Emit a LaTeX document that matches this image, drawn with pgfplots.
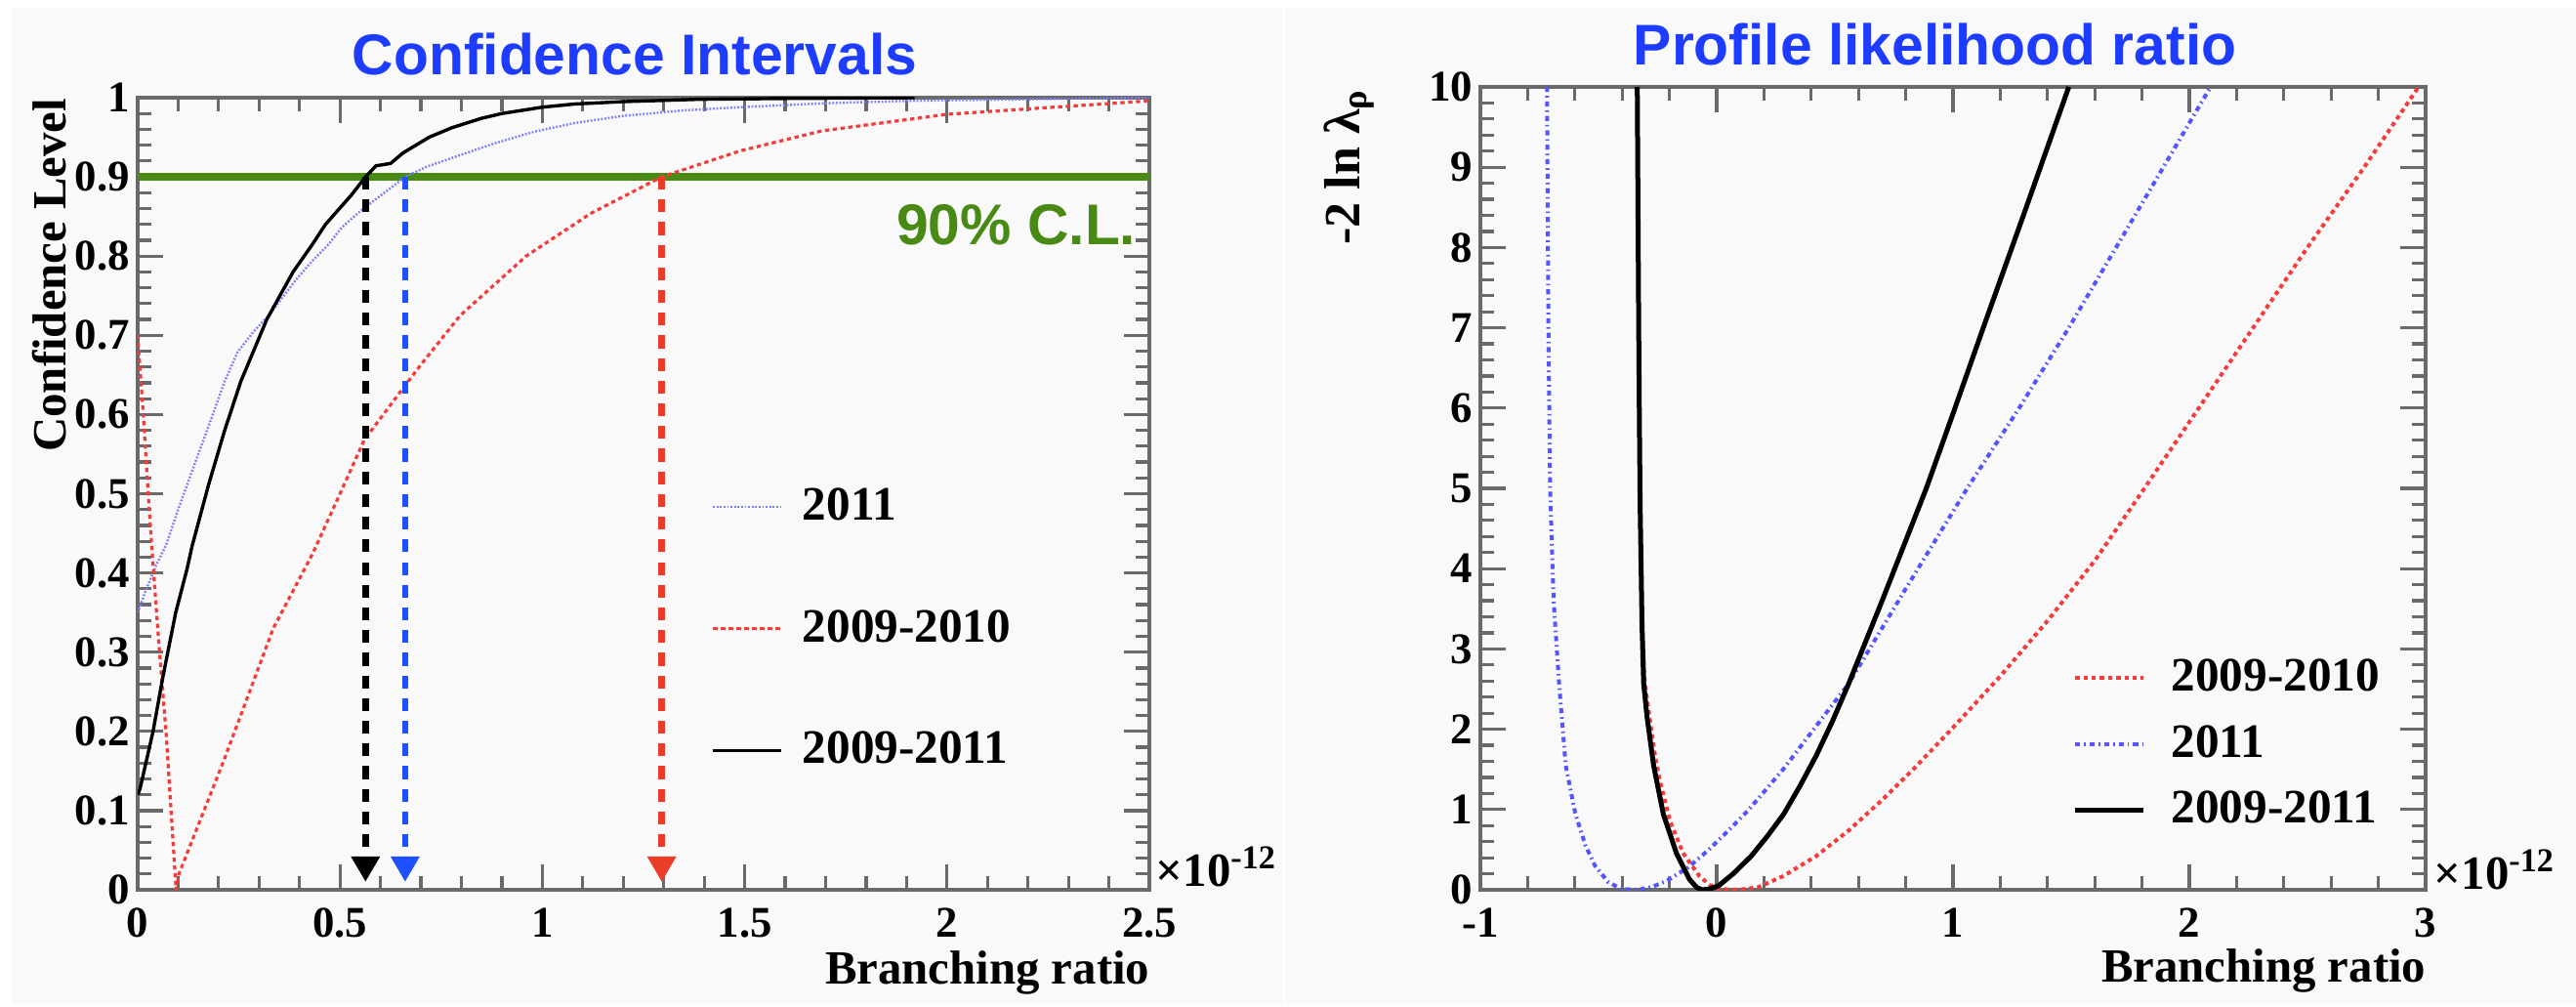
\documentclass[border=0pt]{standalone}
\usepackage{fontspec}
\setmainfont{Liberation Serif}
\newfontfamily\helv{Liberation Sans}
\usepackage{pgfplots}
\pgfplotsset{compat=1.18}
\usetikzlibrary{arrows.meta}

\definecolor{bgc}{RGB}{249,249,249}
\definecolor{titleblue}{RGB}{30,60,255}
\definecolor{clgreen}{RGB}{72,138,20}
\definecolor{rootred}{RGB}{245,60,60}
\definecolor{rootblueL}{RGB}{125,125,255}
\definecolor{rootblueR}{RGB}{85,85,255}
\definecolor{arrowblue}{RGB}{30,80,255}
\definecolor{arrowred}{RGB}{235,60,40}
\definecolor{framegray}{RGB}{105,105,105}

\newcommand\tickfont{\bfseries\fontsize{11.2}{13}\selectfont}
\newcommand\legfont{\bfseries\fontsize{12.3}{14}\selectfont}
\newcommand\labfont{\bfseries\fontsize{12.2}{14}\selectfont}
\newcommand\titfont{\helv\bfseries\fontsize{14.7}{16}\selectfont}

\pgfplotsset{
  legend image code/.code={\draw[#1] (0pt,0pt) -- (17.5pt,0pt);},
  rootframe/.style={
    scale only axis,
    axis line style={draw=framegray, line width=1pt},
    tick style={draw=framegray, line width=0.8pt},
    tick align=inside,
    tick pos=both,
    major tick length=6.5pt,
    minor tick length=3.5pt,
    minor tick num=4,
    tick label style={font=\tickfont},
    xticklabel style={inner sep=0pt, yshift=-4.5pt},
    yticklabel style={inner sep=0pt, xshift=-1.8pt},
    legend cell align=left,
  },
}

\begin{document}
\begin{tikzpicture}
\fill[white] (0pt,0pt) rectangle (659.5pt,257.25pt);
\fill[bgc] (3pt,0pt) rectangle (659.5pt,255.25pt);
\draw[white, line width=0.6pt] (328.75pt,0pt) -- (328.75pt,255.25pt);
\path[use as bounding box] (0pt,0pt) rectangle (659.5pt,257.25pt);

% ---------------- confidence level versus branching ratio ----------------
\begin{axis}[
  rootframe,
  at={(35.25pt,29.5pt)}, anchor=south west,
  width=259pt, height=202.75pt,
  xmin=0, xmax=2.5, ymin=0, ymax=1,
  xtick={0,0.5,1,1.5,2,2.5},
  xticklabels={0,0.5,1,1.5,2,2.5},
  ytick={0,0.1,0.2,0.3,0.4,0.5,0.6,0.7,0.8,0.9,1},
  yticklabels={0,0.1,0.2,0.3,0.4,0.5,0.6,0.7,0.8,0.9,1},
  legend style={draw=none, fill=none, font=\legfont,
    at={(axis cs:1.416,0.518)}, anchor=north west,
    row sep=17.5pt, inner sep=0pt, column sep=3pt},
]
% 90% C.L. reference line
\addplot[forget plot, clgreen, line width=2pt] coordinates {(0,0.9) (2.5,0.9)};

\addplot[rootblueL, line width=0.6pt, dash pattern=on 0.45pt off 0.45pt] coordinates {
 (0,0.35) (0.02,0.378) (0.046,0.41) (0.07,0.435) (0.10,0.48) (0.134,0.528)
 (0.175,0.585) (0.215,0.642) (0.247,0.679) (0.287,0.705) (0.327,0.727)
 (0.391,0.77) (0.43,0.793) (0.472,0.815) (0.504,0.836) (0.553,0.858)
 (0.625,0.886) (0.661,0.90) (0.715,0.913) (0.80,0.928) (0.88,0.942)
 (0.98,0.957) (1.08,0.968) (1.2,0.977) (1.35,0.984) (1.49,0.988)
 (1.7,0.993) (1.9,0.996) (2.2,0.998) (2.5,1.0)};
\addlegendentry{2011}

\addplot[rootred, line width=0.8pt, dash pattern=on 1.1pt off 0.9pt] coordinates {
 (0,0.70) (0.014,0.6) (0.026,0.5) (0.038,0.41) (0.054,0.30) (0.07,0.2)
 (0.082,0.104) (0.095,0.0) (0.102,0.02) (0.215,0.166) (0.335,0.33)
 (0.432,0.424) (0.50,0.50) (0.56,0.568) (0.657,0.634) (0.70,0.663)
 (0.797,0.725) (0.96,0.80) (1.12,0.854) (1.295,0.90) (1.49,0.933)
 (1.69,0.958) (2.0,0.979) (2.5,0.996)};
\addlegendentry{2009-2010}

\addplot[black, line width=0.85pt] coordinates {
 (0,0.12) (0.006,0.128) (0.038,0.2) (0.062,0.268) (0.094,0.35) (0.122,0.405)
 (0.134,0.433) (0.175,0.511) (0.215,0.58) (0.255,0.642) (0.319,0.72)
 (0.384,0.78) (0.432,0.815) (0.464,0.84) (0.528,0.877) (0.563,0.90)
 (0.589,0.914) (0.625,0.917) (0.655,0.93) (0.72,0.95) (0.776,0.962)
 (0.85,0.974) (0.9,0.98) (1.0,0.988) (1.08,0.992) (1.2,0.995)
 (1.39,0.998) (1.6,0.999) (1.92,1.0)};
\addlegendentry{2009-2011}

% upper limits at 90% C.L.
\addplot[forget plot, black, line width=1.8pt, dash pattern=on 3.3pt off 2.5pt,
  -{Triangle[width=7pt,length=6.5pt]}] coordinates {(0.563,0.9) (0.563,0.01)};
\addplot[forget plot, arrowblue, line width=1.6pt, dash pattern=on 3.3pt off 2.5pt,
  -{Triangle[width=7pt,length=6.5pt]}] coordinates {(0.661,0.9) (0.661,0.01)};
\addplot[forget plot, arrowred, line width=1.6pt, dash pattern=on 3.3pt off 2.5pt,
  -{Triangle[width=7pt,length=6.5pt]}] coordinates {(1.295,0.9) (1.295,0.01)};

\node[anchor=base east, text=clgreen, font=\titfont, inner sep=0pt]
  at (axis cs:2.469,0.815) {90\% C.L.};
\end{axis}

% ---------------- profile likelihood ratio ----------------
\begin{axis}[
  rootframe,
  at={(379pt,29.5pt)}, anchor=south west,
  width=242pt, height=205.5pt,
  xmin=-1, xmax=3, ymin=0, ymax=10,
  xtick={-1,0,1,2,3},
  xticklabels={-1,0,1,2,3},
  ytick={0,1,2,3,4,5,6,7,8,9,10},
  yticklabels={0,1,2,3,4,5,6,7,8,9,10},
  legend style={draw=none, fill=none, font=\legfont,
    at={(axis cs:1.504,2.98)}, anchor=north west,
    row sep=3.2pt, inner sep=0pt, column sep=4.5pt},
]
\addplot[rootred, line width=1pt, dash pattern=on 1.1pt off 1pt] coordinates {
 (-0.336,10) (-0.333,8.5) (-0.33,7) (-0.327,5.8) (-0.324,4.8) (-0.316,3.3)
 (-0.305,2.6) (-0.281,2.08) (-0.26,1.65) (-0.24,1.35) (-0.198,0.86)
 (-0.143,0.46) (-0.074,0.174) (-0.03,0.06) (0.008,0.01) (0.09,0)
 (0.174,0.03) (0.284,0.174) (0.421,0.42) (0.559,0.74) (0.697,1.11)
 (0.835,1.51) (1.0,2.02) (1.2,2.66) (1.4,3.35) (1.6,4.1) (1.81,5.0)
 (2.04,6.0) (2.27,7.0) (2.5,8.0) (2.74,9.0) (2.97,10)};
\addlegendentry{2009-2010}

\addplot[rootblueR, line width=1pt, dash pattern=on 1.3pt off 1pt on 0.4pt off 1pt] coordinates {
 (-0.718,10) (-0.715,8.5) (-0.712,7) (-0.705,5) (-0.69,3.6) (-0.667,2.57)
 (-0.639,1.55) (-0.598,0.945) (-0.555,0.55) (-0.515,0.3) (-0.46,0.1)
 (-0.405,0.01) (-0.33,0) (-0.27,0.04) (-0.212,0.11) (-0.12,0.28)
 (-0.033,0.5) (0.05,0.74) (0.132,0.985) (0.284,1.51) (0.421,2.04)
 (0.559,2.57) (0.8,3.75) (1.06,5.0) (1.28,6.0) (1.49,7.0) (1.69,8.0)
 (1.89,9.0) (2.09,10)};
\addlegendentry{2011}

\addplot[black, line width=1.25pt] coordinates {
 (-0.336,10) (-0.333,8.5) (-0.33,7) (-0.327,5.8) (-0.324,4.8) (-0.316,3.3)
 (-0.309,2.57) (-0.295,2.16) (-0.267,1.55) (-0.226,0.945) (-0.171,0.46)
 (-0.116,0.134) (-0.085,0.03) (-0.061,0.0) (-0.03,0.01) (0.008,0.05)
 (0.07,0.2) (0.146,0.42) (0.215,0.67) (0.284,0.945) (0.35,1.28)
 (0.421,1.67) (0.49,2.1) (0.559,2.57) (0.7,3.6) (0.887,5.0) (1.0,5.93)
 (1.128,7.0) (1.31,8.5) (1.49,10)};
\addlegendentry{2009-2011}
\end{axis}

% titles and axis titles
\node[anchor=base, text=titleblue, font=\titfont, inner sep=0pt] at (162.5pt,238pt) {Confidence Intervals};
\node[anchor=base, text=titleblue, font=\titfont, inner sep=0pt] at (495.4pt,240.5pt) {Profile likelihood ratio};

\node[anchor=base east, rotate=90, font=\labfont, inner sep=0pt] at (16.75pt,232.25pt) {Confidence Level};
\node[anchor=base east, rotate=90, font=\bfseries\fontsize{13}{15}\selectfont, inner sep=0pt] at (348pt,234.75pt) {-2 ln λ\textsubscript{ρ}};

\node[anchor=base east, font=\labfont, inner sep=0pt] at (294.5pt,5.5pt) {Branching ratio};
\node[anchor=base east, font=\labfont, inner sep=0pt] at (621.25pt,6pt) {Branching ratio};

\node[anchor=base west, font=\labfont, inner sep=0pt] at (295.75pt,30.5pt) {×10\textsuperscript{-12}};
\node[anchor=base west, font=\labfont, inner sep=0pt] at (623pt,29.75pt) {×10\textsuperscript{-12}};
\end{tikzpicture}
\end{document}
